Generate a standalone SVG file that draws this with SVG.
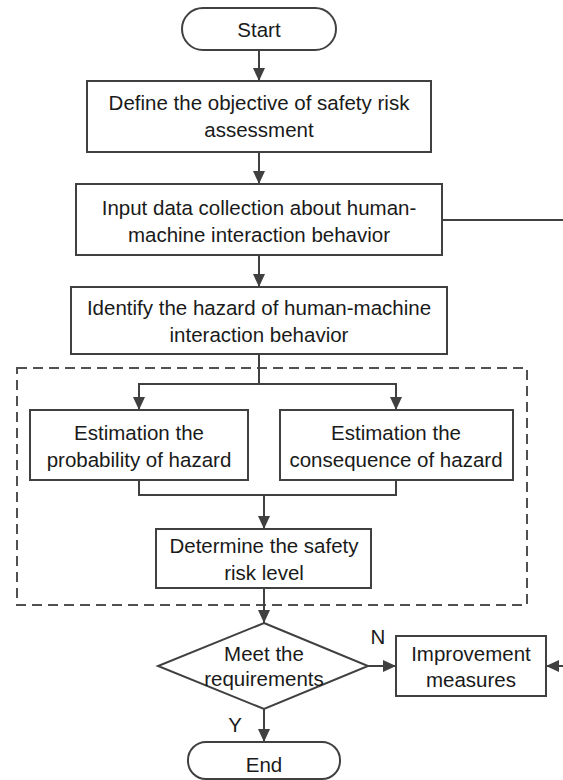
<svg xmlns="http://www.w3.org/2000/svg" width="563" height="780" viewBox="0 0 563 780">
<defs>
<style>
.box{fill:#fff;stroke:#404040;stroke-width:2}
.ln{fill:none;stroke:#404040;stroke-width:2}
.dash{fill:none;stroke:#505050;stroke-width:2;stroke-dasharray:10,6}
text{font-family:"Liberation Sans",Arial,sans-serif;font-size:20.5px;fill:#1a1a1a;text-anchor:middle}
</style>
<marker id="arr" markerUnits="userSpaceOnUse" markerWidth="14" markerHeight="14" viewBox="0 0 14 14" refX="13" refY="7" orient="auto">
<path d="M0,1 L13,7 L0,13 Z" fill="#404040"/>
</marker>
</defs>
<rect class="dash" x="17" y="368" width="510" height="237"/>
<g id="connectors">
<line class="ln" x1="259" y1="50" x2="259" y2="81" marker-end="url(#arr)"/>
<line class="ln" x1="259" y1="152" x2="259" y2="184" marker-end="url(#arr)"/>
<line class="ln" x1="259" y1="255" x2="259" y2="287" marker-end="url(#arr)"/>
<line class="ln" x1="442" y1="220" x2="563" y2="220"/>
<line class="ln" x1="259" y1="354" x2="259" y2="384"/>
<polyline class="ln" points="259,384 139,384 139,410" marker-end="url(#arr)"/>
<polyline class="ln" points="259,384 396,384 396,410" marker-end="url(#arr)"/>
<polyline class="ln" points="139,480 139,495 396,495 396,480"/>
<line class="ln" x1="264" y1="495" x2="264" y2="529" marker-end="url(#arr)"/>
<line class="ln" x1="264" y1="588" x2="264" y2="623" marker-end="url(#arr)"/>
<line class="ln" x1="368" y1="666" x2="396" y2="666" marker-end="url(#arr)"/>
<line class="ln" x1="563" y1="666" x2="546" y2="666" marker-end="url(#arr)"/>
<line class="ln" x1="264" y1="709" x2="264" y2="742" marker-end="url(#arr)"/>
<text x="378" y="644">N</text>
<text x="235" y="732">Y</text>
</g>
<g id="start">
<rect class="box" x="182" y="8" width="154" height="42" rx="21"/>
<text x="259" y="37">Start</text>
</g>
<g id="define">
<rect class="box" x="87" y="81" width="344" height="71"/>
<text x="259" y="110">Define the objective of safety risk</text>
<text x="259" y="137">assessment</text>
</g>
<g id="input">
<rect class="box" x="76" y="184" width="366" height="71"/>
<text x="259" y="215">Input data collection about  human-</text>
<text x="259" y="242">machine interaction behavior</text>
</g>
<g id="identify">
<rect class="box" x="71" y="287" width="376" height="67"/>
<text x="259" y="315">Identify the hazard  of human-machine</text>
<text x="259" y="342">interaction behavior</text>
</g>
<g id="probability">
<rect class="box" x="30" y="410" width="218" height="70"/>
<text x="139" y="440">Estimation the</text>
<text x="139" y="467">probability of hazard</text>
</g>
<g id="consequence">
<rect class="box" x="280" y="410" width="233" height="70"/>
<text x="396" y="440">Estimation the</text>
<text x="396" y="467">consequence of hazard</text>
</g>
<g id="determine">
<rect class="box" x="156" y="529" width="215" height="59"/>
<text x="264" y="553">Determine the safety</text>
<text x="264" y="580">risk level</text>
</g>
<g id="meet">
<polygon class="box" points="264,623 368,666 264,709 158,666"/>
<text x="264" y="661">Meet the</text>
<text x="264" y="686">requirements</text>
</g>
<g id="improvement">
<rect class="box" x="396" y="636" width="150" height="60"/>
<text x="471" y="661">Improvement</text>
<text x="471" y="687">measures</text>
</g>
<g id="end">
<rect class="box" x="188" y="742" width="152" height="37" rx="18"/>
<text x="264" y="772">End</text>
</g>
</svg>
